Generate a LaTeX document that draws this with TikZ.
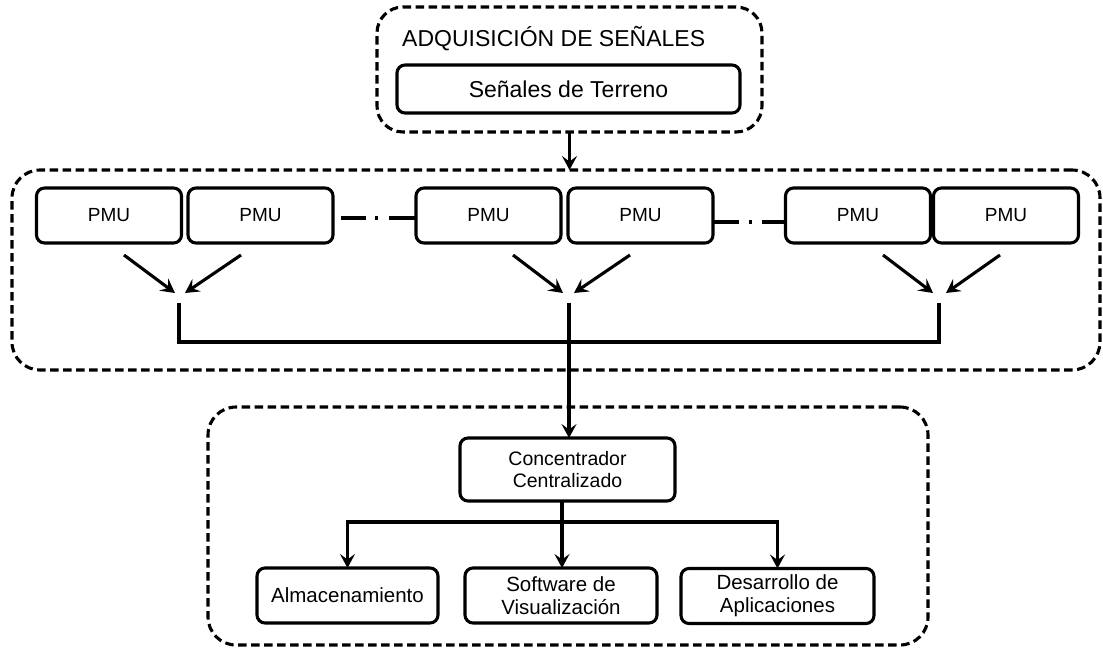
\documentclass[tikz,border=0pt]{standalone}
\usepackage{fontspec}
\setmainfont{Liberation Sans}
\usetikzlibrary{arrows.meta,calc}
\begin{document}
\begin{tikzpicture}[x=1pt,y=-1pt,
  box/.style={draw,line width=3.1pt,rounded corners=8pt,inner sep=0pt,outer sep=0pt,align=center},
  grp/.style={draw,line width=3.1pt,dash pattern=on 8.5pt off 4.5pt,rounded corners=26pt,inner sep=0pt,outer sep=0pt},
  pmu/.style={box,minimum width=145pt,minimum height=55pt,font=\fontsize{19}{22}\selectfont},
  leaf/.style={box,minimum height=55pt,font=\fontsize{20.5}{23}\selectfont},
  conn/.style={line width=3.1pt},
  arr/.style={conn,-{Stealth[length=14pt,width=15pt,inset=5.5pt]}},
  dotline/.style={line width=3.1pt},
]
\useasboundingbox (0,0) rectangle (1103,649);

% top group
\node[grp,minimum width=385pt,minimum height=125pt] (g1) at (569.5,69.5) {};
\node[anchor=west,inner sep=0pt,font=\fontsize{23}{26}\selectfont] (title) at (402,39) {ADQUISICIÓN DE SEÑALES};
\node[box,minimum width=343pt,minimum height=48pt,font=\fontsize{23}{26}\selectfont] (sig) at (568.5,89) {Señales de Terreno};

% middle group
\node[grp,minimum width=1088pt,minimum height=200pt,rounded corners=28pt] (g2) at (556,270) {};
\node[pmu] (p1) at (109,215.5) {PMU};
\node[pmu] (p2) at (260.5,215.5) {PMU};
\node[pmu] (p3) at (488.5,215.5) {PMU};
\node[pmu] (p4) at (640.5,215.5) {PMU};
\node[pmu] (p5) at (858,215.5) {\raisebox{-3pt}{PMU}};
\node[pmu] (p6) at (1006,215.5) {PMU};

\draw[arr] (g1.south) -- (g1.south |- g2.north);

% dash-dot links
\draw[dotline,dash pattern=on 25pt off 9pt on 3pt off 11pt on 27pt]
  ([xshift=8pt,yshift=-2.5pt]p2.east) -- ([yshift=-2.5pt]p3.west);
\draw[dotline,dash pattern=on 26pt off 10pt on 3pt off 10pt on 24pt]
  ([yshift=-6.5pt]p4.east) -- ([yshift=-6.5pt]p5.west);

% junctions
\coordinate (j1) at (180,293);
\coordinate (j2) at (569,293);
\coordinate (j3) at (940,293);
\coordinate (m1) at (179,303);
\coordinate (m2) at (569,303);
\coordinate (m3) at (939,303);
\coordinate (bus) at (569,342);

\draw[arr] ([xshift=15pt,yshift=-12pt]p1.south) -- ([xshift=-5pt]j1);
\draw[arr] ([xshift=-19.5pt,yshift=-12pt]p2.south) -- ([xshift=5pt]j1);
\draw[arr] ([xshift=24.5pt,yshift=-12pt]p3.south) -- ([xshift=-6pt]j2);
\draw[arr] ([xshift=-10.5pt,yshift=-12pt]p4.south) -- ([xshift=5pt]j2);
\draw[arr] ([xshift=25pt,yshift=-12pt]p5.south) -- ([xshift=-7pt]j3);
\draw[arr] ([xshift=-6pt,yshift=-12pt]p6.south) -- ([xshift=6pt]j3);

\draw[conn] (m1) |- (bus) -| (m3);

% bottom group
\node[grp,minimum width=720pt,minimum height=238pt,rounded corners=28pt] (g3) at (568,526) {};
\node[box,minimum width=215pt,minimum height=63pt,font=\fontsize{19.5}{22.5}\selectfont] (conc) at (567.5,469.5) {Concentrador\\Centralizado};
\node[leaf,minimum width=181pt] (alm) at (347.5,595.5) {Almacenamiento};
\node[leaf,minimum width=192pt] (soft) at (561,595.5) {Software de\\Visualización};
\node[leaf,minimum width=193pt] (des) at (777.5,596) {Desarrollo de\\Aplicaciones};

\draw[arr] (m2) -- (m2 |- conc.north);

\coordinate (bus2) at (562,522);
\draw[conn] (conc.south -| bus2) -- (bus2);
\draw[arr] (bus2) -| (alm.north);
\draw[arr] (bus2) -- (bus2 |- soft.north);
\draw[arr] (bus2) -| (des.north);
\end{tikzpicture}
\end{document}
